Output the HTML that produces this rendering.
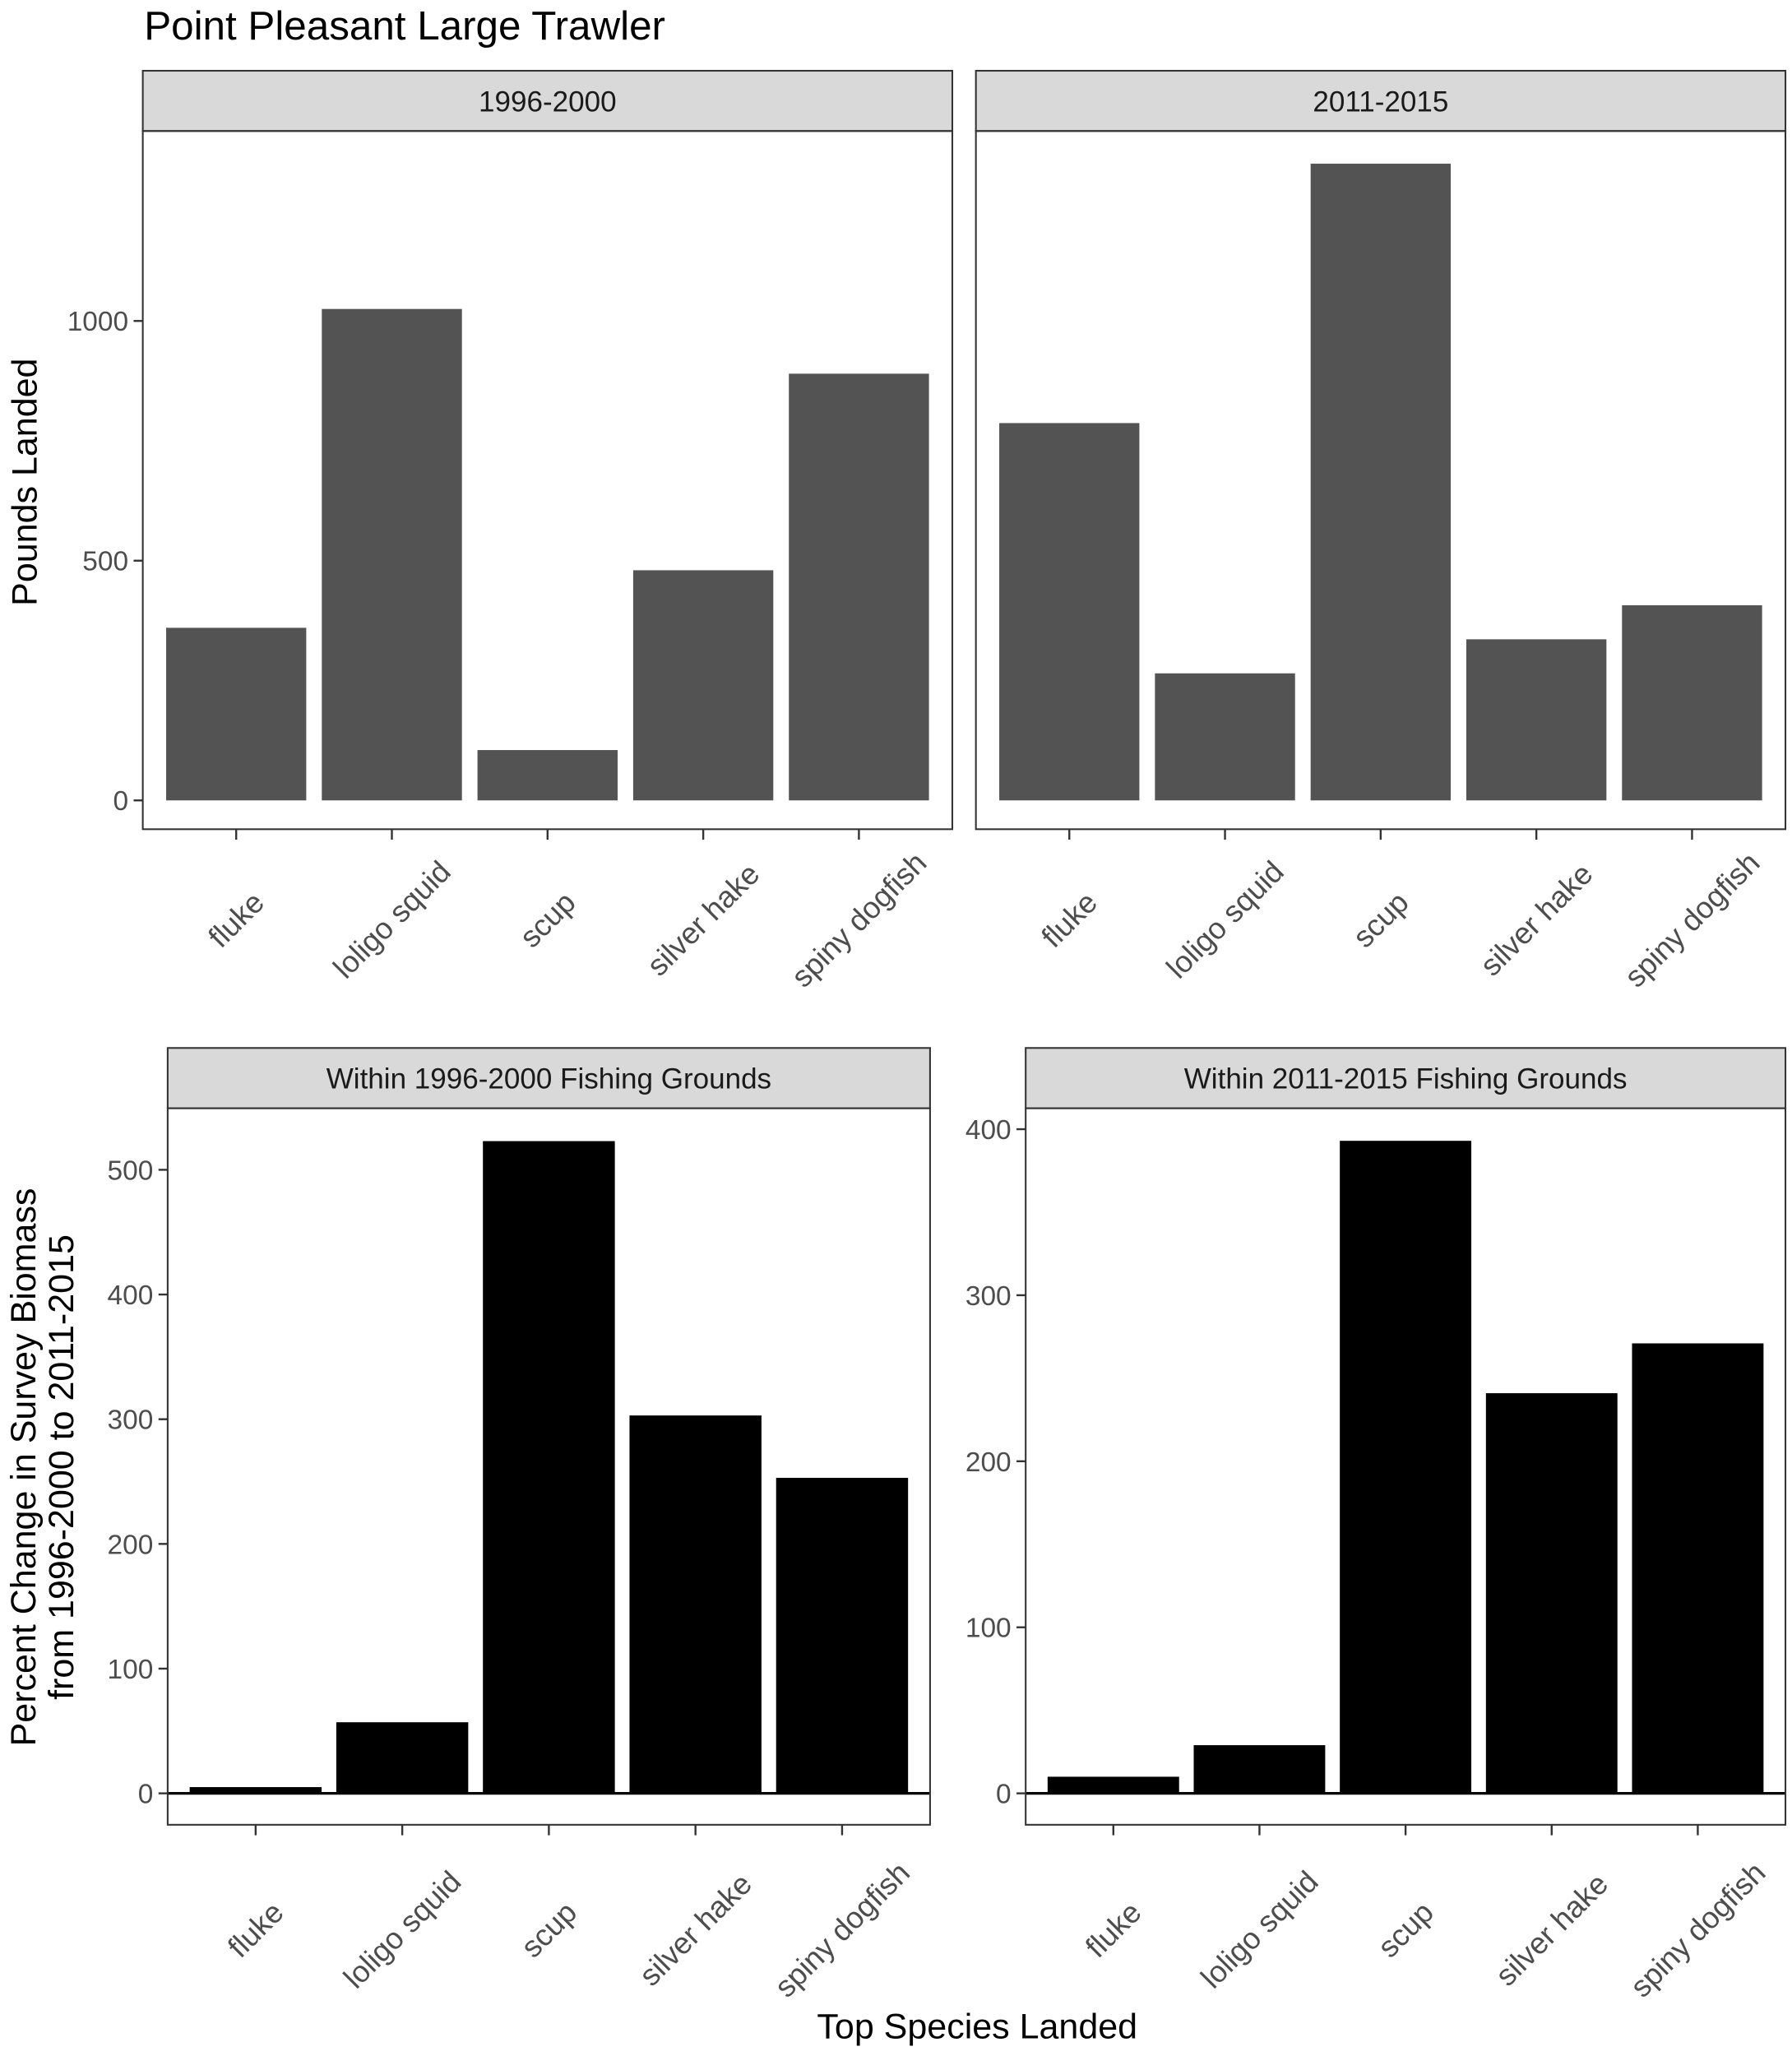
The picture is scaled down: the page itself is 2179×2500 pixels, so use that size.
<!DOCTYPE html>
<html><head><meta charset="utf-8"><style>
html,body{margin:0;padding:0;background:#fff}
svg{display:block;font-family:"Liberation Sans",Arial,sans-serif}
</style></head><body>
<svg id="chart" width="2179" height="2500" viewBox="0 0 1368 1569.5" xmlns="http://www.w3.org/2000/svg">
<rect x="0" y="0" width="1368" height="1569.5" fill="#fff"/>
<text x="110" y="30" font-size="31" fill="#000">Point Pleasant Large Trawler</text>
<text transform="translate(28,368) rotate(-90)" text-anchor="middle" font-size="27" fill="#000">Pounds Landed</text>
<text transform="translate(27,1120) rotate(-90)" text-anchor="middle" font-size="27" fill="#000">Percent Change in Survey Biomass</text>
<text transform="translate(56,1120) rotate(-90)" text-anchor="middle" font-size="27" fill="#000">from 1996-2000 to 2011-2015</text>
<text x="746" y="1556" text-anchor="middle" font-size="27" fill="#000">Top Species Landed</text>
<g id="panels"></g>
</svg>
<script>
const categories = ["fluke","loligo squid","scup","silver hake","spiny dogfish"];
const pounds1996 = [360, 1025, 105, 480, 890];
const pounds2011 = [787, 265, 1328, 336, 407];
const change1996 = [5, 57, 523, 303, 253];
const change2011 = [10, 29, 393, 241, 271];
const poundsTicks = [0, 500, 1000];
const change1996Ticks = [0, 100, 200, 300, 400, 500];
const change2011Ticks = [0, 100, 200, 300, 400];

const NS = "http://www.w3.org/2000/svg";
const root = document.getElementById("panels");
function mk(tag, attrs, parent) {
  const e = document.createElementNS(NS, tag);
  for (const k in attrs) e.setAttribute(k, attrs[k]);
  (parent || root).appendChild(e);
  return e;
}
function panel(opt) {
  const g = mk("g", {});
  
  
  const L = opt.x0, R = opt.x1, T = opt.y0, B = opt.y1;
  const s = mk("rect", {x: L, y: T - 46, width: R - L, height: 46, fill: "#d9d9d9", stroke: "#333", "stroke-width": 1.3}, g);
  
  
  const st = mk("text", {x: (L + R) / 2, y: T - 15, "text-anchor": "middle", "font-size": 22, fill: "#1a1a1a"}, g);
  st.textContent = opt.strip;
  
  
  const ys = v => opt.yZero - v * opt.pxPer;
  const n = categories.length;
  const step = (R - L) / (n + 0.2);
  const xs = i => L + step * (0.6 + i);
  const bw = step * 0.9;
  opt.values.forEach((v, i) => {
    const r = mk("rect", {x: xs(i) - bw / 2, y: Math.min(ys(v), ys(0)), width: bw, height: Math.abs(ys(0) - ys(v)), fill: opt.fill}, g);
    
    
  });
  if (opt.zeroLine) mk("line", {x1: L, x2: R, y1: ys(0), y2: ys(0), stroke: "#000", "stroke-width": 2}, g);
  mk("rect", {x: L, y: T, width: R - L, height: B - T, fill: "none", stroke: "#333", "stroke-width": 1.3}, g);
  if (opt.ticks) {
    opt.ticks.forEach(t => {
      mk("line", {x1: L - 7, x2: L, y1: ys(t), y2: ys(t), stroke: "#333", "stroke-width": 1.5}, g);
      const tl = mk("text", {x: L - 11, y: ys(t) + 7.5, "text-anchor": "end", "font-size": 21, fill: "#4d4d4d"}, g);
      tl.textContent = t;
      
      
    });
  }
  categories.forEach((c, i) => {
    const x = xs(i);
    mk("line", {x1: x, x2: x, y1: B, y2: B + 8, stroke: "#333", "stroke-width": 1.5}, g);
    const tl = mk("text", {transform: `translate(${x},${B + opt.labOff}) rotate(-45)`, "text-anchor": "middle", "dominant-baseline": "central", "font-size": 23, fill: "#4d4d4d"}, g);
    tl.textContent = c;
    
    
  });
}
const topPx = 183 / 500;
panel({name: "panel-1996-2000", strip: "1996-2000", x0: 109, x1: 727, y0: 100, y1: 633, yZero: 611, pxPer: topPx, values: pounds1996, ticks: poundsTicks, fill: "#535353", labOff: 69});
panel({name: "panel-2011-2015", strip: "2011-2015", x0: 745, x1: 1363, y0: 100, y1: 633, yZero: 611, pxPer: topPx, values: pounds2011, ticks: null, fill: "#535353", labOff: 69});
panel({name: "panel-within-1996-2000", strip: "Within 1996-2000 Fishing Grounds", x0: 128, x1: 710, y0: 846, y1: 1393, yZero: 1369, pxPer: 476 / 500, values: change1996, ticks: change1996Ticks, fill: "#000", zeroLine: true, labOff: 80});
panel({name: "panel-within-2011-2015", strip: "Within 2011-2015 Fishing Grounds", x0: 783, x1: 1363, y0: 846, y1: 1393, yZero: 1369, pxPer: 507 / 400, values: change2011, ticks: change2011Ticks, fill: "#000", zeroLine: true, labOff: 80});
</script>
</body></html>
